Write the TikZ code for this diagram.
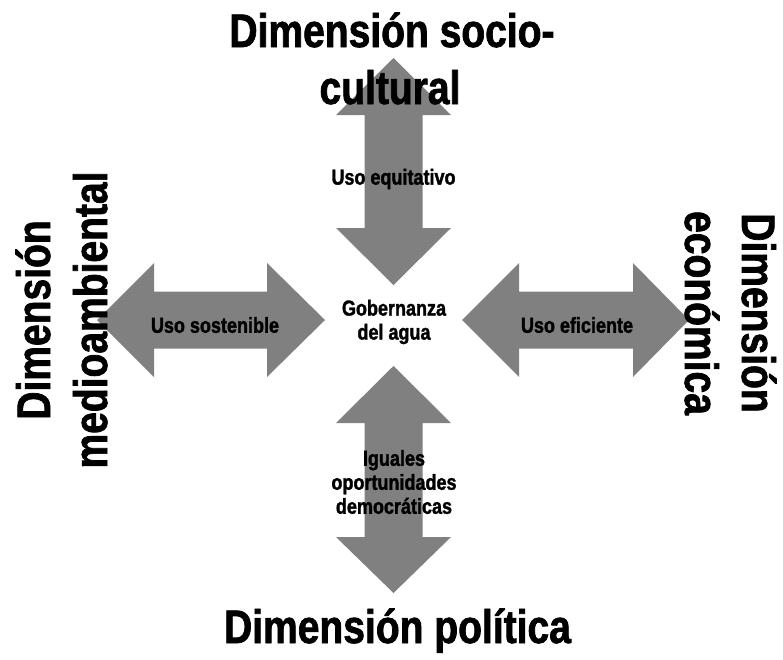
\documentclass[tikz,border=0pt]{standalone}
\usepackage{fontspec}
\newfontfamily\nb{Liberation Sans}[FakeStretch=0.83,FakeBold=1.5]
\definecolor{arrowgray}{RGB}{128,128,128}
\begin{document}
\begin{tikzpicture}[x=1pt,y=-1pt,
  bigarrow/.style={fill=arrowgray,draw=none},
  title/.style={font={\nb\bfseries\fontsize{47}{57}\selectfont},inner sep=0pt,text=black},
  label/.style={font={\nb\bfseries\fontsize{21.7}{24}\selectfont},align=center,inner sep=0pt,text=black}]
\useasboundingbox (0,0) rectangle (783,659);
% arrows
\fill[bigarrow] (393.5,58) -- (451,115) -- (422.5,115) -- (422.5,228) -- (451,228) -- (393.5,285)
  -- (336,228) -- (364.5,228) -- (364.5,115) -- (336,115) -- cycle;
\fill[bigarrow] (393.5,366) -- (451,423) -- (422.5,423) -- (422.5,537) -- (451,537) -- (393.5,593)
  -- (336,537) -- (364.5,537) -- (364.5,423) -- (336,423) -- cycle;
\fill[bigarrow] (97,320) -- (154,263) -- (154,291.5) -- (267,291.5) -- (267,263) -- (325,320)
  -- (267,377) -- (267,348.5) -- (154,348.5) -- (154,377) -- cycle;
\fill[bigarrow] (462,320) -- (519,263) -- (519,291.5) -- (633,291.5) -- (633,263) -- (689,320)
  -- (633,377) -- (633,348.5) -- (519,348.5) -- (519,377) -- cycle;
% labels
\node[label] (eq) at (393.5,179) {Uso equitativo};
\node[label] (sos) at (215,325) {Uso sostenible};
\node[label] (efi) at (577,325) {Uso eficiente};
\node[label] (gob) at (394,322) {Gobernanza\\del agua};
\node[label] (igu) at (394,482) {Iguales\\oportunidades\\democráticas};
% titles
\node[title,anchor=base] (t1) at (392,47) {Dimensión socio-};
\node[title,anchor=base] (t2) at (390,104) {cultural};
\node[title,anchor=base] (b1) at (397.5,643) {Dimensión política};
\node[title,anchor=base,rotate=90] (l1) at (50,320) {Dimensión};
\node[title,anchor=base,rotate=90] (l2) at (107,320) {medioambiental};
\node[title,anchor=base,rotate=-90] (r1) at (742,313) {Dimensión};
\node[title,anchor=base,rotate=-90] (r2) at (685,313) {económica};
\end{tikzpicture}
\end{document}
